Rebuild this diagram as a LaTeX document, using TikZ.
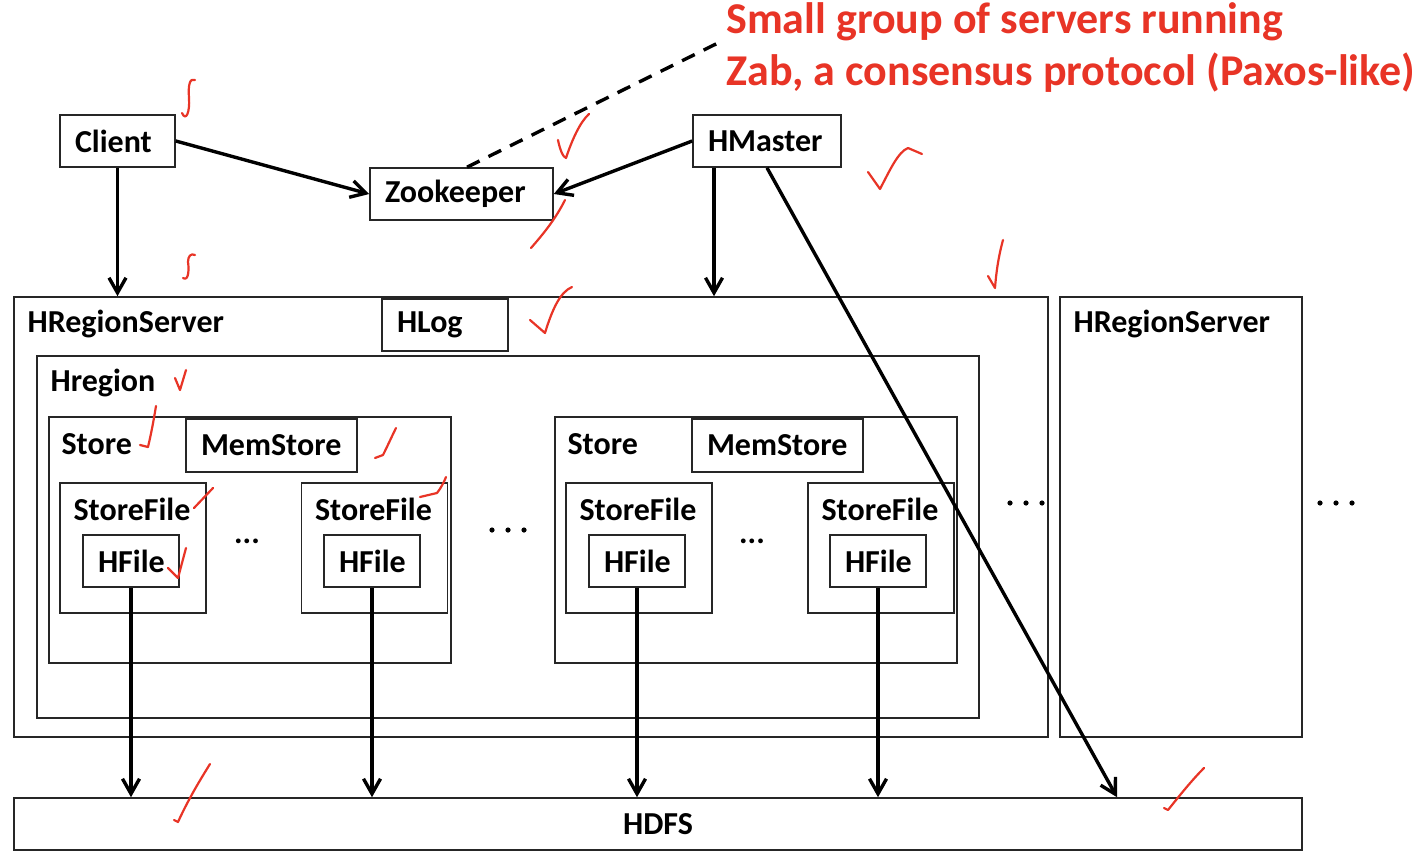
\documentclass[tikz,border=0pt]{standalone}
\usepackage{fontspec}
\setmainfont{Carlito}
\usetikzlibrary{arrows.meta}
\definecolor{annored}{RGB}{232,52,38}
\begin{document}
\begin{tikzpicture}
  [every node/.style={inner sep=0pt},
   box/.style={draw=black!85, line width=0.8pt, inner xsep=7.5pt, align=left,
     font=\bfseries\fontsize{16}{18}\selectfont},
   title/.style={anchor=west, font=\bfseries\fontsize{16}{18}\selectfont},
   note/.style={anchor=base west, text=annored, font=\bfseries\fontsize{22}{26}\selectfont},
   link/.style={line width=1.7pt, -{Straight Barb[length=7.5pt,width=8.5pt]}},
   tick/.style={annored, line width=1.1pt, line cap=round, line join=round}]
  \useasboundingbox (0pt,0pt) rectangle (712pt,-431pt);
  % top row
  \node (client) [box, text width=42.5pt, minimum height=26pt] at (58.75pt, -70.5pt) {Client};
  \node (zoo) [box, text width=76.5pt, minimum height=26pt] at (230.75pt, -97pt) {Zookeeper};
  \node (master) [box, text width=59pt, minimum height=26pt] at (383.5pt, -70.5pt) {HMaster};
  \node (zabA) [note] at (363pt, -16.5pt) {Small group of servers running};
  \node (zabB) [note] at (363pt, -42.5pt) {Zab, a consensus protocol (Paxos-like)};
  \coordinate (zabtip) at (360pt, -21pt);
  % region servers
  \node (rs) [box, minimum width=517pt, minimum height=220pt] at (265.5pt, -258.5pt) {};
  \node (rslbl) [title] at ([shift={(7pt,-14pt)}]rs.north west) {HRegionServer};
  \node (hlog) [box, text width=48pt, minimum height=26pt] at (222.5pt, -162.5pt) {HLog};
  \node (region) [box, minimum width=471pt, minimum height=181pt] at (254pt, -268.5pt) {};
  \node (regionlbl) [title] at ([shift={(7pt,-14pt)}]region.north west) {Hregion};
  \node (rsB) [box, minimum width=121pt, minimum height=220pt] at (590.5pt, -258.5pt) {};
  \node (rsBlbl) [title] at ([shift={(7pt,-14pt)}]rsB.north west) {HRegionServer};
  % stores
  \node (stA) [box, minimum width=201pt, minimum height=123pt] at (125pt, -270pt) {};
  \node (stAlbl) [title] at ([shift={(6.5pt,-14pt)}]stA.north west) {Store};
  \node (msA) [box, text width=70.5pt, minimum height=26.5pt] at (135.75pt, -222.75pt) {MemStore};
  \node (stB) [box, minimum width=201pt, minimum height=123pt] at (378pt, -270pt) {};
  \node (stBlbl) [title] at ([shift={(6.5pt,-14pt)}]stB.north west) {Store};
  \node (msB) [box, text width=70.5pt, minimum height=26.5pt] at (388.75pt, -222.75pt) {MemStore};
  % store files
  \node (sfA) [box, minimum width=73pt, minimum height=65pt] at (66.5pt, -274pt) {};
  \node (sfB) [box, minimum width=73pt, minimum height=65pt] at (187.25pt, -274pt) {};
  \node (sfC) [box, minimum width=73pt, minimum height=65pt] at (319.5pt, -274pt) {};
  \node (sfD) [box, minimum width=73pt, minimum height=65pt] at (440.5pt, -274pt) {};
  \node (sfAlbl) [title] at ([shift={(7pt,-13.5pt)}]sfA.north west) {StoreFile};
  \node (sfBlbl) [title] at ([shift={(7pt,-13.5pt)}]sfB.north west) {StoreFile};
  \node (sfClbl) [title] at ([shift={(7pt,-13.5pt)}]sfC.north west) {StoreFile};
  \node (sfDlbl) [title] at ([shift={(7pt,-13.5pt)}]sfD.north west) {StoreFile};
  \node (hfA) [box, text width=33pt, minimum height=26pt] at (65.5pt, -280.5pt) {HFile};
  \node (hfB) [box, text width=33pt, minimum height=26pt] at (186pt, -280.5pt) {HFile};
  \node (hfC) [box, text width=33pt, minimum height=26pt] at (318.5pt, -280.5pt) {HFile};
  \node (hfD) [box, text width=33pt, minimum height=26pt] at (439pt, -280.5pt) {HFile};
  \node (ellA) [title, anchor=center] at (123.5pt, -270.5pt) {...};
  \node (ellB) [title, anchor=center] at (376pt, -270.5pt) {...};
  % gaps
  \coordinate (gapA) at (254pt, -265pt);
  \coordinate (gapB) at (513pt, -251.5pt);
  \coordinate (gapC) at (668pt, -251.5pt);
  \foreach \g in {gapA, gapB, gapC}
    \foreach \d in {-8, 0, 8}
      \fill ([xshift=\d pt]\g) circle (1.3pt);
  % storage
  \node (hdfs) [box, minimum width=644pt, minimum height=26pt, align=center] at (329pt, -412pt) {HDFS};
  % connectors
  \draw [link] (client) -- (client |- rs.north);
  \draw [link] (client.east) -- (zoo.west);
  \draw [link] (master.west) -- (zoo.east);
  \draw [link] ([xshift=-26.5pt]master.south) -- ([xshift=-26.5pt]master.south |- rs.north);
  \draw [link] (master.south) -- ([xshift=229.5pt]hdfs.north);
  \foreach \f in {hfA, hfB, hfC, hfD}
    \draw [link] (\f) -- (\f |- hdfs.north);
  \draw [line width=1.7pt, dash pattern=on 7pt off 5pt] ([xshift=2.75pt]zoo.north) -- (zabtip);
  % hand-drawn ticks
  \begin{scope}[x=0.5pt, y=-0.5pt]
    \draw [tick] (182,113) .. controls (186,122) and (190,112) .. (189,98) .. controls (188,84) and (190,78) .. (195,80);
    \draw [tick] (558,140) .. controls (560,150) and (563,157) .. (566,158) .. controls (572,140) and (580,122) .. (589,114);
    \draw [tick] (531,248) .. controls (545,232) and (556,218) .. (565,200);
    \draw [tick] (868,172) -- (880,189) .. controls (890,170) and (898,152) .. (908,148) -- (922,154);
    \draw [tick] (183,278) .. controls (189,282) and (189,268) .. (188,262) .. controls (188,256) and (191,253) .. (195,255);
    \draw [tick] (530,320) -- (545,333) .. controls (552,310) and (560,292) .. (572,287);
    \draw [tick] (1003,240) .. controls (998,258) and (996,275) .. (995,288) -- (988,276);
    \draw [tick] (175,378) -- (180,390) -- (186,370);
    \draw [tick] (140,445) -- (148,447) .. controls (152,430) and (154,418) .. (156,406);
    \draw [tick] (375,458) -- (383,455) .. controls (388,445) and (392,436) .. (396,428);
    \draw [tick] (194,508) -- (213,488);
    \draw [tick] (420,497) -- (437,493) .. controls (441,488) and (444,482) .. (446,477);
    \draw [tick] (168,568) -- (178,578) -- (186,548);
    \draw [tick] (174,820) -- (178,822) .. controls (188,800) and (200,780) .. (210,764);
    \draw [tick] (1164,808) -- (1168,810) .. controls (1180,795) and (1192,780) .. (1204,768);
  \end{scope}
\end{tikzpicture}
\end{document}
